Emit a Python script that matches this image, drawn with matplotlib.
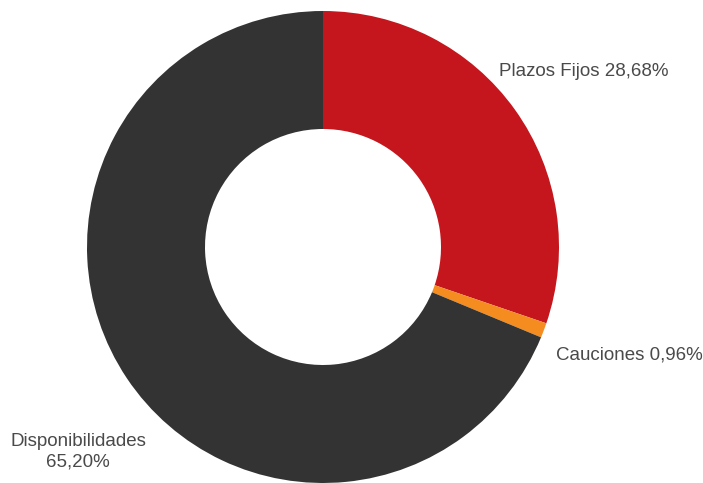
import matplotlib.pyplot as plt

# datos de la cartera
categorias = ["Plazos Fijos", "Cauciones", "Disponibilidades"]
valores = [28.68, 0.96, 65.20]
etiquetas = ["Plazos Fijos 28,68%", "Cauciones 0,96%", "Disponibilidades\n65,20%"]
colores = ["#C4161C", "#F48C20", "#333333"]

W, H = 703, 483
cx, cy, r = 323, 247, 236  # centro y radio en pixeles


def px(x, y):
    # pixeles -> coordenadas de datos (radio = 1)
    return (x - cx) / r, (cy - y) / r


fig = plt.figure(figsize=(W / 100, H / 100), dpi=100)
ax = fig.add_axes([0, 0, 1, 1])
ax.pie(valores, colors=colores, startangle=90, counterclock=False,
       wedgeprops=dict(width=0.5, linewidth=0))
ax.set_aspect("auto")
ax.set_xlim(-cx / r, (W - cx) / r)
ax.set_ylim(-(H - cy) / r, cy / r)
ax.axis("off")

estilo = dict(fontsize=13.5, color="#4a4a4a", family=["Liberation Sans", "DejaVu Sans"])
x, y = px(499, 71)
ax.text(x, y, etiquetas[0], ha="left", va="center", **estilo)
x, y = px(556, 355)
ax.text(x, y, etiquetas[1], ha="left", va="center", **estilo)
x, y = px(78, 452)
ax.text(x, y, etiquetas[2], ha="center", va="center", linespacing=1.25, **estilo)

fig.savefig("out.png", dpi=100)
